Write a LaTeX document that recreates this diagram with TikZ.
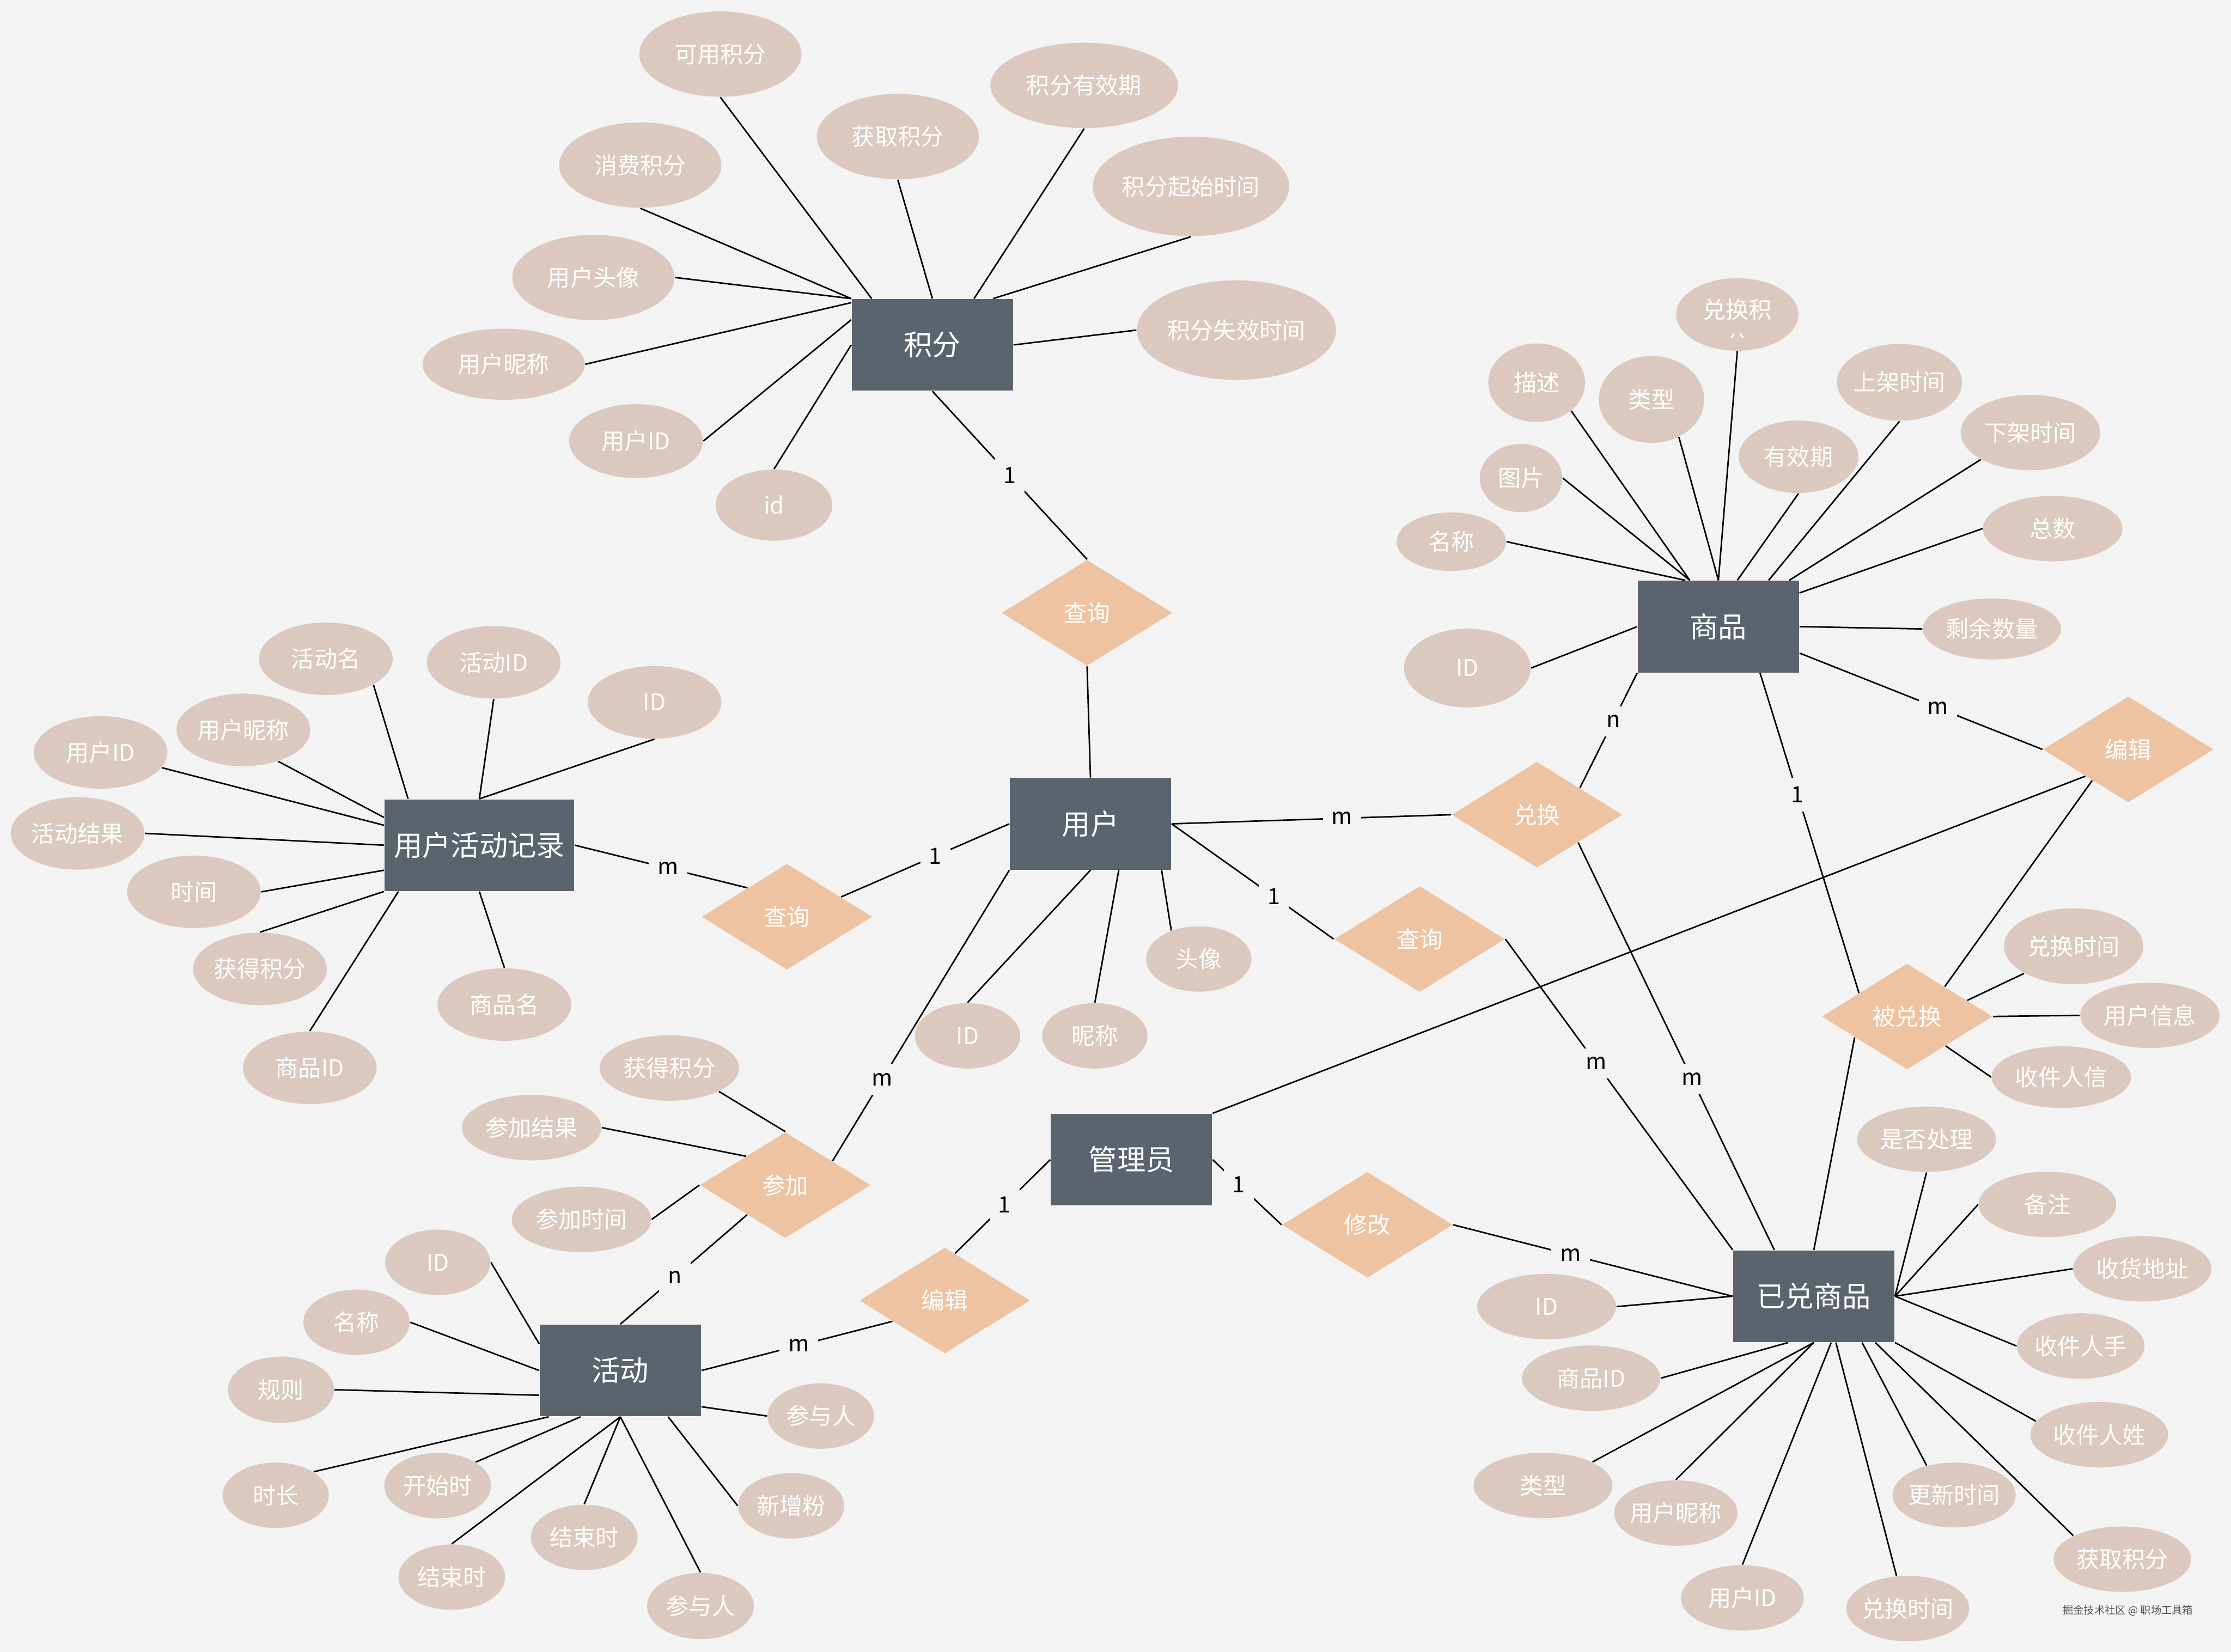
\documentclass[tikz,border=0pt]{standalone}
\usepackage{fontspec}
\setmainfont{Noto Sans CJK SC}
\usetikzlibrary{shapes.geometric,calc}
\definecolor{bg}{RGB}{243,243,243}
\definecolor{entc}{RGB}{90,99,110}
\definecolor{relc}{RGB}{237,195,162}
\definecolor{attrc}{RGB}{219,201,191}
\definecolor{wmc}{RGB}{80,80,80}
\pgfdeclarelayer{canvas}
\pgfdeclarelayer{lines}
\pgfsetlayers{canvas,lines,main}
\newcommand\attrnode[6]{\node[attr,minimum width=#4*0.04cm,minimum height=#5*0.04cm] (#1) at (#2,#3) {\makebox[0pt]{#6}};}
\begin{document}
\begin{tikzpicture}[x=0.02cm,y=-0.02cm,
  ent/.style={rectangle,fill=entc,text=white,inner sep=0pt,minimum width=2.268cm,minimum height=1.288cm,font=\fontsize{11.4}{13}\selectfont},
  rel/.style={diamond,fill=relc,text=white,inner sep=0pt,minimum width=2.4cm,minimum height=1.49cm,font=\fontsize{9.3}{11}\selectfont},
  attr/.style={ellipse,fill=attrc,text=white,inner sep=0pt,font=\fontsize{9.2}{11}\selectfont},
  attrtxt/.style={text=white,inner sep=0pt,font=\fontsize{9.2}{11}\selectfont},
  lab/.style={fill=bg,text=black,inner sep=3.5pt,font=\fontsize{9}{11}\selectfont},
  link/.style={draw=black,line width=0.6pt}]
\begin{pgfonlayer}{canvas}
\fill[bg] (0,0) rectangle (1568,1161);
\end{pgfonlayer}
\useasboundingbox (0,0) rectangle (1568,1161);

% entities
\node[ent] (jf) at (655.3,242.4) {积分};
\node[ent] (sp) at (1207.7,440.4) {商品};
\node[ent] (yh) at (766.4,579) {用户};
\node[ent,minimum width=2.668cm] (jl) at (336.9,594) {用户活动记录};
\node[ent] (gl) at (795.2,815) {管理员};
\node[ent] (hd) at (436,963.2) {活动};
\node[ent] (yd) at (1274.8,911) {已兑商品};

% relationships
\node[rel] (cx1) at (764,430.7) {查询};
\node[rel] (dh) at (1080.2,572.6) {兑换};
\node[rel] (cxL) at (553.1,644.3) {查询};
\node[rel] (cxR) at (997.7,660) {查询};
\node[rel] (bjR) at (1495.8,526.7) {编辑};
\node[rel] (bdh) at (1340.3,714.4) {被兑换};
\node[rel] (cj) at (551.9,832.9) {参加};
\node[rel] (bjB) at (664,914) {编辑};
\node[rel] (xg) at (961,860.8) {修改};

% attributes of 积分
\attrnode{a1}{506.3}{38}{57}{30}{可用积分}
\attrnode{a2}{631}{96}{57}{30}{获取积分}
\attrnode{a3}{762}{60}{66}{30}{积分有效期}
\attrnode{a4}{837}{131}{69}{35}{积分起始时间}
\attrnode{a5}{869}{232}{70}{35}{积分失效时间}
\attrnode{a6}{450}{116}{57}{30}{消费积分}
\attrnode{a7}{417}{195}{57}{30}{用户头像}
\attrnode{a8}{354}{256}{57}{25}{用户昵称}
\attrnode{a9}{447}{310}{47}{26}{用户ID}
\attrnode{a10}{544}{355}{41}{25}{id}

% attributes of 商品
\attrnode{b1}{1221}{221}{43}{25.5}{}
\node[attrtxt] (b1t) at (1221,217.7) {兑换积};
\begin{scope}
\clip (1200,233.5) rectangle (1242,237.5);
\node[attrtxt,anchor=base] (b1u) at (1221,247.5) {分};
\end{scope}
\attrnode{b2}{1080}{269}{34}{27.6}{描述}
\attrnode{b3}{1160.7}{280.7}{37}{30.6}{类型}
\attrnode{b4}{1335}{268.7}{44}{27}{上架时间}
\attrnode{b5}{1264}{321}{42}{25.5}{有效期}
\attrnode{b6}{1427}{304}{49}{26.5}{下架时间}
\attrnode{b7}{1069}{336}{29}{24}{图片}
\attrnode{b8}{1020}{380.7}{38.5}{20.6}{名称}
\attrnode{b9}{1442.7}{371.5}{49}{23}{总数}
\attrnode{b10}{1400}{442}{48.6}{21.5}{剩余数量}
\attrnode{b11}{1031.3}{469.5}{44.5}{27.7}{ID}

% attributes of 用户
\attrnode{c1}{680}{728}{37}{23}{ID}
\attrnode{c2}{769.5}{728}{37}{23}{昵称}
\attrnode{c3}{842.5}{674}{37}{23}{头像}

% attributes of 用户活动记录
\attrnode{d1}{229}{463}{47}{25.5}{活动名}
\attrnode{d2}{347}{465.5}{47}{25.5}{活动ID}
\attrnode{d3}{460}{493.6}{47}{25.5}{ID}
\attrnode{d4}{171}{513}{47}{25.5}{用户昵称}
\attrnode{d5}{70.7}{528.8}{47}{25.5}{用户ID}
\attrnode{d6}{54.5}{585.7}{47}{25.5}{活动结果}
\attrnode{d7}{136.3}{626.8}{47}{25.5}{时间}
\attrnode{d8}{182.7}{681}{47}{25.5}{获得积分}
\attrnode{d9}{217.7}{750.5}{47}{25.5}{商品ID}
\attrnode{d10}{354.5}{706}{47}{25.5}{商品名}

% attributes of 参加
\attrnode{e1}{470.4}{750.6}{49}{23}{获得积分}
\attrnode{e2}{373.6}{792.5}{49}{23}{参加结果}
\attrnode{e3}{408.7}{857}{49}{23}{参加时间}

% attributes of 活动
\attrnode{f1}{307.7}{887.2}{37}{23}{ID}
\attrnode{f2}{250.6}{929.3}{37.4}{23}{名称}
\attrnode{f3}{197.5}{976.7}{37.3}{23.3}{规则}
\attrnode{f4}{193.8}{1050.9}{37.3}{23}{时长}
\attrnode{f5}{307.6}{1044.1}{37.5}{23}{开始时}
\attrnode{f6}{410.6}{1080.5}{37.5}{23}{结束时}
\attrnode{f7}{317.5}{1108.4}{37.5}{23}{结束时}
\attrnode{f8}{492.3}{1128.7}{37.5}{23.3}{参与人}
\attrnode{f9}{556.1}{1058.3}{37.3}{23}{新增粉}
\attrnode{f10}{576.9}{995.2}{37.4}{23}{参与人}

% attributes of 被兑换
\attrnode{g1}{1457.4}{665}{49}{26.7}{兑换时间}
\attrnode{g2}{1511}{713.6}{49}{23}{用户信息}
\attrnode{g3}{1448.7}{757}{49}{21.7}{收件人信}

% attributes of 已兑商品
\attrnode{h1}{1354}{800.7}{48.8}{23}{是否处理}
\attrnode{h2}{1439}{846.5}{48.4}{23}{备注}
\attrnode{h3}{1505.6}{891.7}{48.6}{23}{收货地址}
\attrnode{h4}{1462.4}{946}{44.8}{23}{收件人手}
\attrnode{h5}{1475.4}{1008.3}{48.4}{23}{收件人姓}
\attrnode{h6}{1491.6}{1095.8}{48.4}{23}{获取积分}
\attrnode{h7}{1373.4}{1050.7}{43.3}{22.8}{更新时间}
\attrnode{h8}{1340.8}{1130.5}{43.2}{23}{兑换时间}
\attrnode{h9}{1224.6}{1123}{43.2}{23}{用户ID}
\attrnode{h10}{1177.8}{1063.4}{43.4}{23}{用户昵称}
\attrnode{h11}{1084.5}{1044}{48.8}{23}{类型}
\attrnode{h12}{1118.3}{968.6}{48.6}{23}{商品ID}
\attrnode{h13}{1087}{918.3}{48.8}{23}{ID}

% watermark
\node[font=\fontsize{4.2}{5}\selectfont,text=wmc,inner sep=0pt] (wm) at (1495.5,1132) {掘金技术社区 @ 职场工具箱};

\begin{pgfonlayer}{lines}
% 积分
\draw[link] (a1.south) -- ([xshift=-0.854cm]jf.north);
\draw[link] (a6.south) -- (jf.north west);
\draw[link] (a7.east) -- (jf.north west);
\draw[link] (a8.east) -- ([yshift=0.594cm]jf.west);
\draw[link] (a9.east) -- ([yshift=0.354cm]jf.west);
\draw[link] (a10.north) -- (jf.west);
\draw[link] (a2.south) -- (jf.north);
\draw[link] (a3.south) -- ([xshift=0.586cm]jf.north);
\draw[link] (a4.south) -- ([xshift=0.854cm]jf.north);
\draw[link] (a5.west) -- (jf.east);
\draw[link] (jf.south) -- node[lab,pos=0.5]{1} (cx1.north);
% 商品
\draw[link] (b1.south) -- (sp.north);
\draw[link] (b2.south east) -- ([xshift=-0.402cm]sp.north);
\draw[link] (b3.306) -- (sp.north);
\draw[link] (b7.east) -- ([xshift=-0.402cm]sp.north);
\draw[link] (b8.east) -- ([xshift=-0.464cm]sp.north);
\draw[link] (b5.south) -- ([xshift=0.266cm]sp.north);
\draw[link] (b4.south) -- ([xshift=0.706cm]sp.north);
\draw[link] (b6.south west) -- ([xshift=0.996cm]sp.north);
\draw[link] (b9.west) -- ([yshift=0.474cm]sp.east);
\draw[link] (b10.west) -- (sp.east);
\draw[link] (b11.east) -- (sp.west);
\draw[link] (sp.south west) -- node[lab,pos=0.42]{n} ($(dh.north)!0.5!(dh.east)$);
\draw[link] ([xshift=0.586cm]sp.south) -- node[lab,pos=0.38]{1} ($(bdh.west)!0.44!(bdh.north)$);
\draw[link] ([yshift=-0.372cm]sp.east) -- node[lab,pos=0.57]{m} (bjR.west);
% 用户
\draw[link] (cx1.south) -- (yh.north);
\draw[link] (yh.east) -- node[lab,pos=0.61]{m} (dh.west);
\draw[link] (yh.east) -- node[lab,pos=0.63]{1} (cxR.west);
\draw[link] (yh.west) -- node[lab,pos=0.44]{1} ($(cxL.north)!0.63!(cxL.east)$);
\draw[link] (yh.south west) -- node[lab,pos=0.72]{m} ($(cj.north)!0.55!(cj.east)$);
\draw[link] (yh.south) -- (c1.north);
\draw[link] ([xshift=0.398cm]yh.south) -- (c2.north);
\draw[link] ([xshift=1.0cm]yh.south) -- (c3.134);
% 用户活动记录
\draw[link] (d1.south east) -- ([xshift=-1.002cm]jl.north);
\draw[link] (d2.south) -- (jl.north);
\draw[link] (d3.south) -- (jl.north);
\draw[link] (d4.318) -- ([yshift=0.39cm]jl.west);
\draw[link] (d5.346) -- ([yshift=0.28cm]jl.west);
\draw[link] (d6.east) -- (jl.west);
\draw[link] (d7.east) -- ([yshift=-0.352cm]jl.west);
\draw[link] (d8.north) -- (jl.south west);
\draw[link] (d9.north) -- ([xshift=-1.138cm]jl.south);
\draw[link] (d10.north) -- (jl.south);
\draw[link] (jl.east) -- node[lab,pos=0.54]{m} ($(cxL.west)!0.54!(cxL.north)$);
% 管理员
\draw[link] (gl.north east) -- ($(bjR.west)!0.5!(bjR.south)$);
\draw[link] (gl.west) -- node[lab,pos=0.48]{1} ($(bjB.north)!0.12!(bjB.east)$);
\draw[link] (gl.east) -- node[lab,pos=0.38]{1} (xg.west);
\draw[link] (xg.east) -- node[lab,pos=0.42]{m} (yd.west);
% 活动
\draw[link] (f1.east) -- ([yshift=0.374cm]hd.west);
\draw[link] (f2.east) -- (hd.west);
\draw[link] (f3.east) -- ([yshift=-0.348cm]hd.west);
\draw[link] (f4.north east) -- ([xshift=-1.008cm]hd.south);
\draw[link] (f5.north east) -- ([xshift=-0.56cm]hd.south);
\draw[link] (f6.north) -- (hd.south);
\draw[link] (f7.north) -- (hd.south);
\draw[link] (f8.north) -- (hd.south);
\draw[link] (f9.west) -- ([xshift=0.672cm]hd.south);
\draw[link] (f10.west) -- ([yshift=-0.51cm]hd.east);
\draw[link] (hd.east) -- node[lab,pos=0.51]{m} ($(bjB.west)!0.39!(bjB.south)$);
\draw[link] (hd.north) -- node[lab,pos=0.43]{n} ($(cj.west)!0.555!(cj.south)$);
% 参加
\draw[link] (e1.south east) -- (cj.north);
\draw[link] (e2.east) -- ($(cj.west)!0.54!(cj.north)$);
\draw[link] (e3.east) -- (cj.west);
% 被兑换
\draw[link] (g1.south west) -- ($(bdh.north)!0.7!(bdh.east)$);
\draw[link] (g2.west) -- (bdh.east);
\draw[link] (g3.west) -- ($(bdh.east)!0.55!(bdh.south)$);
\draw[link] ($(bjR.west)!0.58!(bjR.south)$) -- ($(bdh.north)!0.44!(bdh.east)$);
\draw[link] ($(bdh.west)!0.39!(bdh.south)$) -- (yd.north);
% 已兑商品
\draw[link] (cxR.east) -- node[lab,pos=0.40]{m} (yd.north west);
\draw[link] ($(dh.east)!0.52!(dh.south)$) -- node[lab,pos=0.58]{m} ([xshift=-0.556cm]yd.north);
\draw[link] (h13.east) -- (yd.west);
\draw[link] (h12.east) -- ([xshift=-0.36cm]yd.south);
\draw[link] (h11.north east) -- (yd.south);
\draw[link] (h10.north) -- (yd.south);
\draw[link] (h9.north) -- ([xshift=0.244cm]yd.south);
\draw[link] (h8.109) -- ([xshift=0.31cm]yd.south);
\draw[link] (h7.133) -- ([xshift=0.678cm]yd.south);
\draw[link] (h6.north west) -- ([xshift=0.864cm]yd.south);
\draw[link] (h5.168) -- (yd.south east);
\draw[link] (h4.west) -- (yd.east);
\draw[link] (h3.west) -- (yd.east);
\draw[link] (h2.west) -- (yd.east);
\draw[link] (h1.south) -- (yd.east);
\end{pgfonlayer}
\end{tikzpicture}
\end{document}
